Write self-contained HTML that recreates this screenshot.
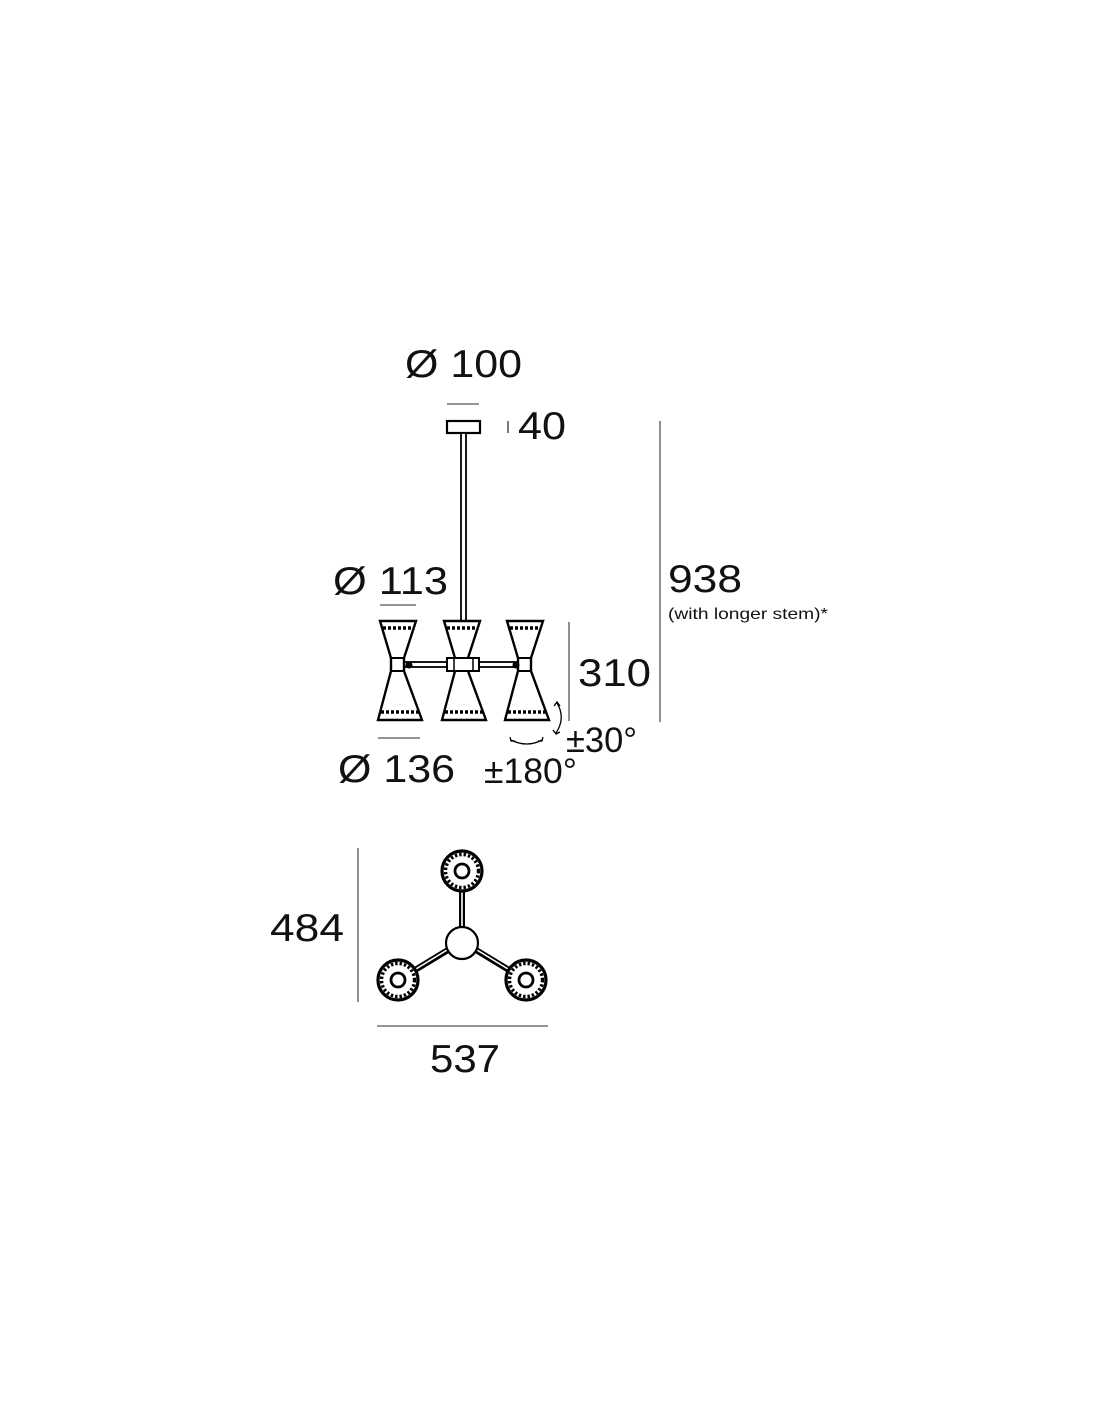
<!DOCTYPE html>
<html><head><meta charset="utf-8"><style>
html,body{margin:0;padding:0;background:#fff;}
svg{display:block;}
text{font-family:"Liberation Sans",sans-serif;fill:#111;}
</style></head><body>
<svg width="1100" height="1422" viewBox="0 0 1100 1422" xmlns="http://www.w3.org/2000/svg">
<defs>
<g id="shade">
 <polygon points="380,621 416,621 404,658 404,671 422,720 378,720 391,671 391,658" fill="#fff" stroke="#000" stroke-width="2.4" stroke-linejoin="miter"/>
 <line x1="391" y1="658" x2="404" y2="658" stroke="#000" stroke-width="2"/>
 <line x1="391" y1="671" x2="404" y2="671" stroke="#000" stroke-width="2"/>
 <line x1="383" y1="628" x2="413" y2="628" stroke="#000" stroke-width="3.4" stroke-dasharray="3 2"/>
 <line x1="381" y1="712" x2="419" y2="712" stroke="#000" stroke-width="3.4" stroke-dasharray="3 2"/>
</g>
<g id="ring">
 <circle r="20" fill="#fff" stroke="#000" stroke-width="3.2"/>
 <circle r="16.5" fill="none" stroke="#000" stroke-width="3.4" stroke-dasharray="2.4 2"/>
 <circle r="7" fill="none" stroke="#000" stroke-width="2.8"/>
</g>
</defs>

<text x="405" y="377" font-size="39" textLength="117" lengthAdjust="spacingAndGlyphs">Ø 100</text>
<line x1="447" y1="404" x2="479" y2="404" stroke="#555" stroke-width="1.3"/>
<rect x="447" y="421" width="33" height="12" fill="#fff" stroke="#000" stroke-width="2.2"/>
<line x1="508" y1="421" x2="508" y2="433" stroke="#333" stroke-width="1.3"/>
<text x="518" y="439" font-size="39" textLength="48" lengthAdjust="spacingAndGlyphs">40</text>

<rect x="461" y="433" width="5" height="189" fill="#fff" stroke="#000" stroke-width="1.8"/>

<rect x="404" y="662" width="113" height="5" fill="#fff" stroke="#000" stroke-width="1.8"/>

<use href="#shade"/>
<use href="#shade" transform="translate(64,0)"/>
<use href="#shade" transform="translate(127,0)"/>
<circle cx="409" cy="665" r="3.5" fill="#000"/>
<circle cx="516" cy="665" r="3.5" fill="#000"/>
<rect x="447" y="658" width="32" height="13" fill="#fff" stroke="#000" stroke-width="2"/>
<line x1="454" y1="658" x2="454" y2="671" stroke="#000" stroke-width="1.5"/>
<line x1="473" y1="658" x2="473" y2="671" stroke="#000" stroke-width="1.5"/>

<text x="333" y="594" font-size="39" textLength="115" lengthAdjust="spacingAndGlyphs">Ø 113</text>
<line x1="380" y1="605" x2="416" y2="605" stroke="#555" stroke-width="1.3"/>
<line x1="378" y1="738" x2="420" y2="738" stroke="#555" stroke-width="1.3"/>
<text x="338" y="782" font-size="39" textLength="117" lengthAdjust="spacingAndGlyphs">Ø 136</text>

<line x1="569" y1="622" x2="569" y2="721" stroke="#555" stroke-width="1.3"/>
<text x="578" y="686" font-size="39" textLength="73" lengthAdjust="spacingAndGlyphs">310</text>

<line x1="660" y1="421" x2="660" y2="722" stroke="#555" stroke-width="1.3"/>
<text x="668" y="592" font-size="39" textLength="74" lengthAdjust="spacingAndGlyphs">938</text>
<text x="668" y="619" font-size="16" textLength="160" lengthAdjust="spacingAndGlyphs">(with longer stem)*</text>

<path d="M557,703 Q566,718 556,733" fill="none" stroke="#000" stroke-width="1.3"/>
<path d="M554,706 L557,702 L560,706" fill="none" stroke="#000" stroke-width="1.3"/>
<path d="M553,730 L556,734 L560,732" fill="none" stroke="#000" stroke-width="1.3"/>
<text x="566" y="752" font-size="35" textLength="71" lengthAdjust="spacingAndGlyphs">±30°</text>
<path d="M511,740 Q527,748 542,740" fill="none" stroke="#000" stroke-width="1.3"/>
<path d="M510,737 L511,741 L515,741" fill="none" stroke="#000" stroke-width="1.3"/>
<path d="M543,737 L542,741 L538,741" fill="none" stroke="#000" stroke-width="1.3"/>
<text x="484" y="783" font-size="35" textLength="93" lengthAdjust="spacingAndGlyphs">±180°</text>

<line x1="358" y1="848" x2="358" y2="1002" stroke="#555" stroke-width="1.3"/>
<text x="270" y="941" font-size="39" textLength="74" lengthAdjust="spacingAndGlyphs">484</text>
<g stroke="#000" stroke-width="6"><line x1="462" y1="890" x2="462" y2="930"/><line x1="448" y1="950" x2="415" y2="970"/><line x1="476" y1="950" x2="509" y2="970"/></g>
<g stroke="#fff" stroke-width="1.6"><line x1="462" y1="890" x2="462" y2="928"/><line x1="447" y1="950" x2="416" y2="969"/><line x1="477" y1="950" x2="508" y2="969"/></g>
<circle cx="462" cy="943" r="16" fill="#fff" stroke="#000" stroke-width="2.2"/>
<use href="#ring" transform="translate(462,871)"/>
<use href="#ring" transform="translate(398,980)"/>
<use href="#ring" transform="translate(526,980)"/>
<line x1="377" y1="1026" x2="548" y2="1026" stroke="#555" stroke-width="1.3"/>
<text x="430" y="1072" font-size="39" textLength="70" lengthAdjust="spacingAndGlyphs">537</text>
</svg>
</body></html>
